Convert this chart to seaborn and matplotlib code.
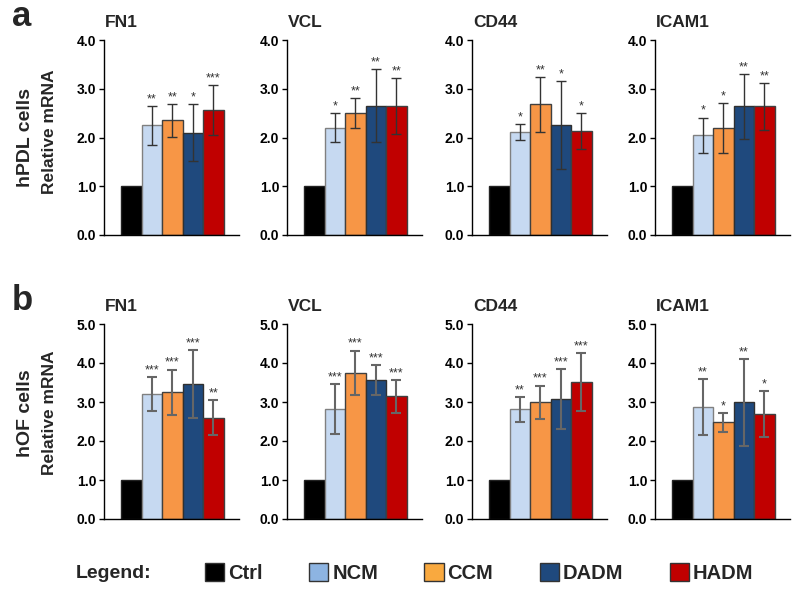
import numpy as np
import pandas as pd
import matplotlib
matplotlib.use('Agg')
import matplotlib.pyplot as plt
import seaborn as sns
from matplotlib.patches import Patch

sns.set_theme(style="white")
plt.rcParams['font.family'] = ['Liberation Sans', 'DejaVu Sans']

# grupos y colores
groups = ['Ctrl', 'NCM', 'CCM', 'DADM', 'HADM']
bar_colors = ['#000000', '#c6d9f1', '#f79646', '#1f497d', '#c00000']
edge_colors = ['#222222', '#808080', '#404040', '#303030', '#404040']
legend_colors = ['#000000', '#8db4e2', '#f9a93f', '#1f497d', '#c00000']
genes = ['FN1', 'VCL', 'CD44', 'ICAM1']

# fila a: hPDL cells
hpdl_mean = {
    'FN1': [1.0, 2.25, 2.35, 2.10, 2.57],
    'VCL': [1.0, 2.20, 2.50, 2.65, 2.65],
    'CD44': [1.0, 2.11, 2.68, 2.25, 2.13],
    'ICAM1': [1.0, 2.05, 2.19, 2.64, 2.64],
}
hpdl_err = {
    'FN1': [0, 0.40, 0.33, 0.58, 0.51],
    'VCL': [0, 0.30, 0.31, 0.75, 0.57],
    'CD44': [0, 0.16, 0.56, 0.90, 0.37],
    'ICAM1': [0, 0.36, 0.51, 0.67, 0.48],
}
hpdl_stars = {
    'FN1': ['', '**', '**', '*', '***'],
    'VCL': ['', '*', '**', '**', '**'],
    'CD44': ['', '*', '**', '*', '*'],
    'ICAM1': ['', '*', '*', '**', '**'],
}

# fila b: hOF cells
hof_mean = {
    'FN1': [1.0, 3.21, 3.25, 3.47, 2.60],
    'VCL': [1.0, 2.82, 3.75, 3.56, 3.15],
    'CD44': [1.0, 2.81, 2.99, 3.07, 3.52],
    'ICAM1': [1.0, 2.87, 2.48, 2.99, 2.69],
}
hof_err = {
    'FN1': [0, 0.44, 0.58, 0.87, 0.45],
    'VCL': [0, 0.63, 0.57, 0.38, 0.42],
    'CD44': [0, 0.31, 0.43, 0.77, 0.74],
    'ICAM1': [0, 0.71, 0.24, 1.11, 0.60],
}
hof_stars = {
    'FN1': ['', '***', '***', '***', '**'],
    'VCL': ['', '***', '***', '***', '***'],
    'CD44': ['', '**', '***', '***', '***'],
    'ICAM1': ['', '**', '*', '**', '*'],
}

# letra, etiqueta, datos, ymax, color error, grosor error, y del eje x (px), centros de texto
rows = [
    ('a', 'hPDL cells', hpdl_mean, hpdl_err, hpdl_stars, 4.0, '#333333', 1.0, 235, 137, 132),
    ('b', 'hOF cells', hof_mean, hof_err, hof_stars, 5.0, '#666666', 1.5, 519, 413, 413),
]

W, H = 799, 591
fig = plt.figure(figsize=(W / 100, H / 100), dpi=100)

lefts = [104, 287, 472, 655]
ax_w = 135
ax_h = 195

for letter, cell, means, errs, stars, ymax, ecol, elw, y0, yc1, yc2 in rows:
    for i, gene in enumerate(genes):
        ax = fig.add_axes([lefts[i] / W, 1 - y0 / H, ax_w / W, ax_h / H])
        df = pd.DataFrame({'group': groups, 'value': means[gene]})
        sns.barplot(data=df, x='group', y='value', hue='group', palette=bar_colors,
                    width=1.0, legend=False, ax=ax, saturation=1)
        for p, ec in zip(ax.patches, edge_colors):
            p.set_edgecolor(ec)
            p.set_linewidth(1.0)
        xs = [p.get_x() + p.get_width() / 2 for p in ax.patches]
        for x, m, e, s in zip(xs, means[gene], errs[gene], stars[gene]):
            if e > 0:
                ax.errorbar(x, m, yerr=e, fmt='none', ecolor=ecol, elinewidth=elw,
                            capsize=3.3, capthick=elw)
                ax.annotate(s, (x, m + e), xytext=(0, 0.5), textcoords='offset points',
                            ha='center', va='bottom', fontsize=9, color='#333333')
        ax.set_xlim(-1.33, 5.25)
        ax.set_ylim(0, ymax)
        ticks = np.arange(0, ymax + 0.01, 1.0)
        ax.set_yticks(ticks)
        ax.set_yticklabels([f'{t:.1f}' for t in ticks], fontweight='bold', fontsize=10)
        ax.set_xticks([])
        ax.set_xlabel('')
        ax.set_ylabel('')
        for side in ['top', 'right']:
            ax.spines[side].set_visible(False)
        for side in ['left', 'bottom']:
            ax.spines[side].set_color('black')
            ax.spines[side].set_linewidth(1.0)
        ax.tick_params(axis='y', left=True, length=3.5, width=1, color='black',
                       pad=2, labelcolor='black')
        ax.text(0.01, 1 + 13 / ax_h, gene, transform=ax.transAxes, ha='left',
                va='baseline', fontsize=12.5, fontweight='bold')
    # letras y etiquetas de fila
    top = y0 - ax_h
    fig.text(12 / W, 1 - (top - 23) / H, letter, ha='left', va='center',
             fontsize=25, fontweight='bold')
    fig.text(26 / W, 1 - yc1 / H, cell, rotation=90, ha='center', va='center',
             fontsize=14, fontweight='bold')
    fig.text(49 / W, 1 - yc2 / H, 'Relative mRNA', rotation=90, ha='center',
             va='center', fontsize=12.5, fontweight='bold')

# leyenda
fig.text(76 / W, 1 - 573 / H, 'Legend:', ha='left', va='center',
         fontsize=14, fontweight='bold')
handles = [Patch(facecolor=c, edgecolor='#333333', linewidth=1) for c in legend_colors]
leg = fig.legend(handles, groups, loc='center left', bbox_to_anchor=(187 / W, 1 - 573 / H),
                 ncol=5, frameon=False, handlelength=0.95, handleheight=0.95,
                 handletextpad=0.2, columnspacing=2.3,
                 prop={'weight': 'bold', 'size': 14.5})

plt.savefig('out.png', dpi=100)
